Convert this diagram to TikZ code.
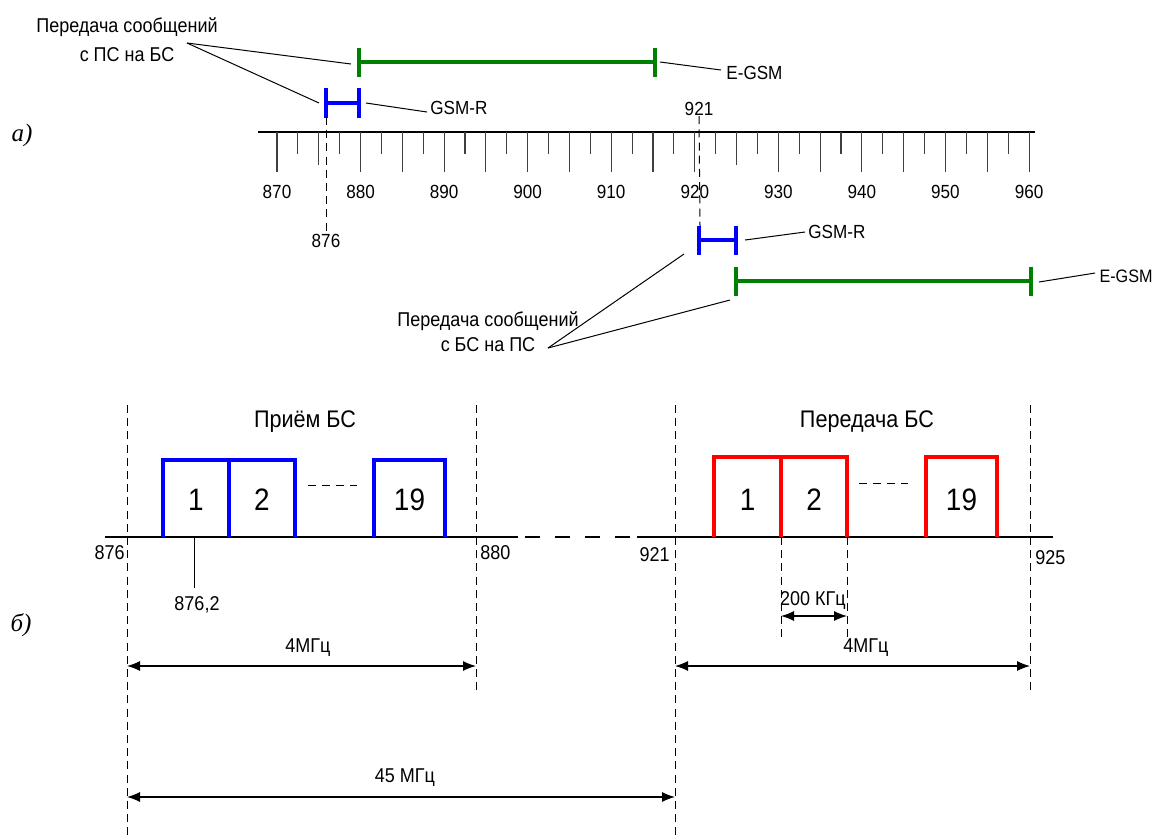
\documentclass[tikz,border=0pt]{standalone}
\usepackage{fontspec}
\setmainfont{Liberation Sans}[FakeStretch=0.9]
\newfontfamily\partfont{Liberation Serif}
\usetikzlibrary{arrows.meta}
\definecolor{gsmG}{RGB}{0,128,0}
\definecolor{gsmB}{RGB}{0,0,255}
\definecolor{gsmR}{RGB}{255,0,0}
\newcommand{\AXY}{132}
\newcommand{\BXY}{537}
\newcommand{\MHZ}{8.356}
% band marker |--|: #1 left x, #2 right x, #3 y, #4 half height, #5 style
\newcommand{\bandbar}[5]{%
  \draw[#5] (#1,{#3-#4}) -- (#1,{#3+#4});
  \draw[#5] (#2,{#3-#4}) -- (#2,{#3+#4});
  \draw[#5] (#1,#3) -- (#2,#3);}
% channel, open at the bottom: #1 left x, #2 right x, #3 top y, #4 colour, #5 name, #6 number
\newcommand{\chbox}[6]{%
  \draw[chan, draw=#4] (#1,\BXY) -- (#1,#3) -- (#2,#3) -- (#2,\BXY);
  \node[big] (#5) at ({(#1+#2)/2},500) {#6};}

\begin{document}
\begin{tikzpicture}[x=0.5pt, y=-0.5pt,
    lead/.style={draw=black, line width=0.5pt},
    tick/.style={draw=black!75, line width=0.55pt},
    guide/.style={draw=black, line width=0.5pt, dash pattern=on 4pt off 2.6pt},
    egsm/.style={draw=gsmG, line width=1.8pt},
    gsmr/.style={draw=gsmB, line width=2pt},
    chan/.style={line width=2pt},
    dim/.style={line width=0.6pt, {Latex[length=6.5pt,width=5pt]}-{Latex[length=6.5pt,width=5pt]}},
    txt/.style={font=\fontsize{10}{14.5}\selectfont, inner sep=0pt, align=center},
    sml/.style={font=\fontsize{9.5}{11}\selectfont, inner sep=0pt},
    num/.style={font=\fontsize{9.5}{11}\selectfont, inner sep=0pt},
    head/.style={font=\fontsize{12}{14}\selectfont, inner sep=0pt},
    big/.style={font=\fontsize{15.5}{18}\selectfont, inner sep=0pt},
    part/.style={font=\partfont\itshape\fontsize{12.5}{14}\selectfont, inner sep=0pt},
  ]
  \useasboundingbox (0,0) rectangle (1156,837);

  %% ================= (a) the 900 MHz scale =================
  \node[part] (pa) at (22,135) {а)};
  \draw[line width=0.6pt] (258,\AXY) -- (1035,\AXY);
  \foreach \i in {0,...,36} {
    \pgfmathsetmacro{\tx}{277+\i*2.5*\MHZ}
    \ifodd\i \def\tl{154}\else \def\tl{172}\fi
    \ifnum\i=2 \def\tl{165}\fi
    \ifnum\i=22 \def\tl{165}\fi
    \draw[tick] (\tx,\AXY) -- (\tx,\tl);
  }
  \foreach \v [count=\k from 0] in {870,880,...,960}
    \node[num] (s\v) at ({277+\k*10*\MHZ},192) {\v};

  % uplink: GSM-R and E-GSM above the scale
  \bandbar{326}{359}{103}{15}{gsmr}
  \bandbar{359}{655}{62}{14.5}{egsm}
  \node[txt] (txtUp) at (127,40) {Передача сообщений\\с ПС на БС};
  \coordinate (upFoot) at (187,43);
  \coordinate (grU) at (319,103);
  \coordinate (egU) at (351,64);
  \draw[lead] (upFoot) -- (egU);
  \draw[lead] (upFoot) -- (grU);
  \node[sml, anchor=west] (gsmrUp) at (430,108) {GSM-R};
  \draw[lead] (366,103) -- ([shift={(-3,4)}]gsmrUp.west);
  \node[sml, anchor=west] (egsmUp) at (726,73) {E-GSM};
  \draw[lead] (660,62) -- ([shift={(-5,-3)}]egsmUp.west);

  \node[num] (f876) at (326,241) {876};
  \draw[guide] (326,117) -- (f876.north);
  \node[num] (f921) at (699,109) {921};
  \draw[guide] (f921.south) -- (700,226);

  % downlink: GSM-R and E-GSM below the scale
  \bandbar{699}{736}{240}{14.5}{gsmr}
  \bandbar{736}{1031}{281}{14.5}{egsm}
  \node[sml, anchor=west] (gsmrDn) at (808,232) {GSM-R};
  \draw[lead] (745,240) -- ([shift={(-3,0)}]gsmrDn.west);
  \node[sml, font=\fontsize{9}{11}\selectfont, anchor=east] (egsmDn) at (1153,276) {E-GSM};
  \draw[lead] (1039,282) -- ([shift={(-4,-3)}]egsmDn.west);
  \node[txt, font=\fontsize{10}{12.5}\selectfont] (txtDn) at (488,332) {Передача сообщений\\с БС на ПС};
  \coordinate (dnFoot) at (548,348);
  \draw[lead] (dnFoot) -- (684,254);
  \draw[lead] (dnFoot) -- (730,300);

  %% ================= (б) the GSM-R channels =================
  \node[part] (pb) at (21,625) {б)};
  \draw[line width=0.6pt] (105,\BXY) -- (518,\BXY);
  \draw[line width=0.6pt, dash pattern=on 7.5pt off 7.5pt] (525,\BXY) -- (637,\BXY);
  \draw[line width=0.6pt] (637,\BXY) -- (1053,\BXY);

  \foreach \x/\yb in {127/835, 476/695, 675/835, 1030/695}
    \draw[guide] (\x,405) -- (\x,\yb);

  \node[head] (rxBS) at (305,422) {Приём БС};
  \node[head] (txBS) at (867,422) {Передача БС};

  % receive channels
  \chbox{163}{229}{460}{gsmB}{rx1}{1}
  \chbox{229}{295}{460}{gsmB}{rx2}{2}
  \chbox{374}{445}{460}{gsmB}{rx19}{19}
  \draw[lead, dash pattern=on 4pt off 3pt] (308,485) -- (357,485);
  % transmit channels
  \chbox{714}{781}{457}{gsmR}{tx1}{1}
  \chbox{781}{847}{457}{gsmR}{tx2}{2}
  \chbox{926}{997}{457}{gsmR}{tx19}{19}
  \draw[lead, dash pattern=on 4pt off 3pt] (859,483) -- (908,483);

  \node[txt, anchor=east] (b876) at (125,553) {876};
  \node[txt, anchor=west] (b880) at (480,553) {880};
  \node[txt, anchor=east] (b921) at (670,555) {921};
  \node[txt, anchor=west] (b925) at (1035,558) {925};
  \node[txt] (b8762) at (197,605) {876,2};
  \draw[lead] (194,\BXY) -- (194,588);

  % channel spacing
  \draw[guide] (781,\BXY) -- (781,642);
  \draw[guide] (847,\BXY) -- (847,642);
  \node[txt] (kHz) at (813,600) {200 КГц};
  \draw[dim] (781,616) -- (847,616);

  % band widths and duplex spacing
  \node[txt] (rxW) at (308,648) {4МГц};
  \draw[dim] (127,666) -- (476,666);
  \node[txt] (txW) at (866,648) {4МГц};
  \draw[dim] (675,666) -- (1030,666);
  \node[txt] (dup) at (405,778) {45 МГц};
  \draw[dim] (127,797) -- (675,797);

\end{tikzpicture}
\end{document}
